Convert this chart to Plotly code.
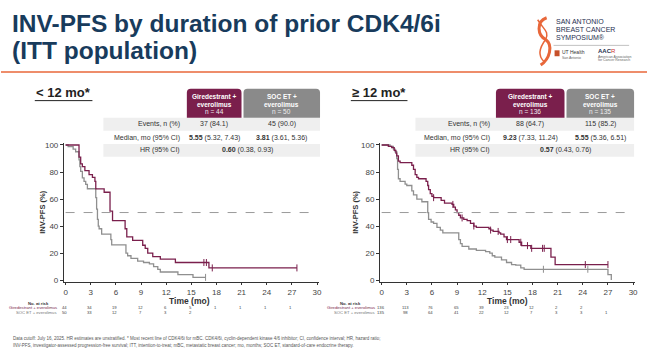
import plotly.graph_objects as go

# ---------------- data ----------------
x_ticks = [0, 3, 6, 9, 12, 15, 18, 21, 24, 27, 30]
y_ticks = [0, 20, 40, 60, 80, 100]

# < 12 mo : Giredestrant + everolimus
l_gir_t = [0, 1.6, 1.8, 2.0, 2.3, 2.8, 3.2, 3.5, 3.6, 4.6, 5.3, 5.6, 7.1, 7.3, 8.0, 9.2, 9.5, 9.8, 10.4, 11.3, 13.1, 17.1]
l_gir_s = [100, 91, 86, 84, 81, 78, 76, 73, 67.5, 65, 51, 44, 38, 32, 29.4, 25.8, 23.4, 20, 17.3, 15.5, 13, 9]
l_gir_end = 27.6
l_gir_cens = [16.5, 16.8, 17.5, 27.6]

# < 12 mo : SOC ET + everolimus
l_soc_t = [0, 0.3, 0.9, 1.2, 1.6, 1.7, 1.8, 2.0, 2.2, 2.4, 2.6, 3.6, 3.7, 3.8, 3.9, 4.0, 4.3, 5.4, 5.5, 7.2, 7.4, 7.8, 8.6, 9.3, 10.0, 10.5, 11.0, 11.3, 13.4, 15.2]
l_soc_s = [100, 98.8, 97, 95, 89, 84, 80.5, 75.7, 73, 70.8, 67.6, 61, 52.5, 45, 40, 38, 34, 30, 26, 20, 18, 16, 14, 13, 12, 10, 8, 6, 4, 2]
l_soc_end = 16.7
l_soc_cens = [16.7]

# >= 12 mo : Giredestrant + everolimus
r_gir_t = [0, 0.8, 1.2, 1.5, 1.7, 1.8, 2.0, 2.2, 3.6, 3.8, 4.0, 4.2, 4.4, 5.3, 5.5, 5.6, 5.8, 6.0, 6.2, 7.1, 7.5, 8.4, 8.6, 8.8, 9.0, 9.2, 9.4, 9.8, 10.2, 10.6, 11.0, 11.3, 12.8, 13.0, 13.3, 14.0, 14.2, 14.6, 14.9, 16.4, 16.7, 17.8, 20.2, 20.7]
r_gir_s = [100, 99, 98, 96, 94, 92, 88, 87, 85, 82, 78, 76, 75, 73, 70, 67, 64, 62, 61, 59, 57, 56, 54, 52, 50, 48, 46, 45, 44, 42, 40, 39, 38, 37, 36, 35, 34, 32, 30, 28, 25.5, 23.5, 17, 11.5]
r_gir_end = 27.0
r_gir_cens = [6.2, 8.5, 9.6, 11.0, 13.0, 13.9, 15.0, 15.4, 16.6, 17.4, 17.9, 19.2, 19.4, 24.3, 27.0]

# >= 12 mo : SOC ET + everolimus
r_soc_t = [0, 1.0, 1.4, 1.6, 1.8, 1.9, 2.0, 2.2, 2.8, 3.0, 3.6, 3.8, 4.2, 4.8, 5.5, 5.6, 5.9, 6.2, 6.6, 7.0, 7.3, 9.2, 9.4, 9.6, 10.4, 11.3, 12.4, 12.9, 13.2, 13.5, 14.3, 14.9, 15.5, 16.0, 16.6, 17.0, 27.0, 27.4]
r_soc_s = [100, 99, 97, 95, 90, 82, 75, 73, 71, 70, 66, 63, 60, 58, 50, 45, 43, 42, 39, 37, 35, 30, 27, 25, 23, 22, 21, 20, 18, 17, 15, 13, 11.5, 11, 9, 8, 4, 0]
r_soc_end = 27.4
r_soc_cens = [19.3, 24.6]

# numbers at risk
risk_times = [0, 3, 6, 9, 12, 15, 18, 21, 24, 27]
l_gir_risk = [44, 34, 19, 12, 6, 5, 1, 1, 1, 1]
l_soc_risk = [50, 33, 12, 7, 3, 2]
r_gir_risk = [136, 113, 76, 65, 39, 23, 12, 2, 2]
r_soc_risk = [135, 98, 64, 41, 22, 12, 7, 3, 3, 1]

# tables
left_arms = [("Giredestrant +", "everolimus", "n = 44"), ("SOC ET +", "everolimus", "n = 50")]
left_events = ["37 (84.1)", "45 (90.0)"]
left_median = [("5.55", " (5.32, 7.43)"), ("3.81", " (3.61, 5.36)")]
left_hr = ("0.60", " (0.38, 0.93)")
right_arms = [("Giredestrant +", "everolimus", "n = 136"), ("SOC ET +", "everolimus", "n = 135")]
right_events = ["88 (64.7)", "115 (85.2)"]
right_median = [("9.23", " (7.33, 11.24)"), ("5.55", " (5.36, 6.51)")]
right_hr = ("0.57", " (0.43, 0.76)")
row_labels = ["Events, n (%)", "Median, mo (95% CI)", "HR (95% CI)"]

# ---------------- style ----------------
W, H = 650, 360
MAROON = "#7A1F4C"
GREYC = "#8F8F8F"
GREYBOX = "#8A8A8A"
TITLE = "#183B5C"
ORANGE = "#E8673A"
FONT = "Liberation Sans, Arial, sans-serif"


def px(x):
    return x / W


def py(y):
    return 1 - y / H


fig = go.Figure()


def surv_at(ts, ss, t):
    v = ss[0]
    for ti, si in zip(ts, ss):
        if ti <= t:
            v = si
    return v


def add_curve(ts, ss, end, cens, color, xa, ya):
    fig.add_trace(go.Scatter(x=ts + [end], y=ss + [ss[-1]], mode="lines",
                             line=dict(color=color, width=1.3, shape="hv"),
                             xaxis=xa, yaxis=ya, showlegend=False, hoverinfo="skip"))
    fig.add_trace(go.Scatter(x=cens, y=[surv_at(ts, ss, c) for c in cens], mode="markers",
                             marker=dict(symbol="line-ns", size=5, line=dict(color=color, width=1)),
                             xaxis=xa, yaxis=ya, showlegend=False, hoverinfo="skip"))


add_curve(l_soc_t, l_soc_s, l_soc_end, l_soc_cens, GREYC, "x", "y")
add_curve(l_gir_t, l_gir_s, l_gir_end, l_gir_cens, MAROON, "x", "y")
add_curve(r_soc_t, r_soc_s, r_soc_end, r_soc_cens, GREYC, "x2", "y2")
add_curve(r_gir_t, r_gir_s, r_gir_end, r_gir_cens, MAROON, "x2", "y2")

# axes geometry (pixels)
xr = [-0.2, 30.2]
yr = [-1.5, 101.5]
ppm = (318 - 65) / 30.0
ppv = (282 - 145) / 100.0
ly0 = 282 + 1.5 * ppv
ly1 = 145 - 1.5 * ppv
ydom = [py(ly0), py(ly1)]
ldom = [px(65 - 0.2 * ppm), px(318 + 0.2 * ppm)]
rdom = [px(383 - 0.2 * ppm), px(636 + 0.2 * ppm)]

axcommon = dict(showgrid=False, zeroline=False, showline=True, linecolor="#333", linewidth=1,
                ticks="outside", tickcolor="#333",
                tickfont=dict(size=8, color="#444", family=FONT))
fig.update_layout(
    xaxis=dict(domain=ldom, range=xr, tickvals=x_ticks, anchor="y", ticklen=2, **axcommon),
    yaxis=dict(domain=ydom, range=yr, tickvals=y_ticks, anchor="x", ticklen=3, **axcommon),
    xaxis2=dict(domain=rdom, range=xr, tickvals=x_ticks, anchor="y2", ticklen=2, **axcommon),
    yaxis2=dict(domain=ydom, range=yr, tickvals=y_ticks, anchor="x2", ticklen=3, **axcommon),
)

shapes = []
ann = []

# dashed median lines
for xa, ya in [("x", "y"), ("x2", "y2")]:
    shapes.append(dict(type="line", xref=xa, yref=ya, x0=0, x1=30, y0=50, y1=50,
                       line=dict(color="#9A9A9A", width=1, dash="dash")))


def text(x, y, s, size=7, color="#333", xanchor="center", yanchor="middle", bold=False, textangle=0):
    ann.append(dict(x=px(x), y=py(y), xref="paper", yref="paper", text=(f"<b>{s}</b>" if bold else s),
                    showarrow=False, xanchor=xanchor, yanchor=yanchor, textangle=textangle,
                    borderpad=0, font=dict(size=size, color=color, family=FONT)))


# axis titles
for xl, xc in [(41, 190), (356, 510)]:
    text(xl, 213, "INV-PFS (%)", size=7.5, color="#333", bold=True, textangle=-90)
    text(xc, 303.5, "Time (mo)", size=8.5, color="#333", bold=True)

# title
text(10, 22, "INV-PFS by duration of prior CDK4/6i", size=24.5, color=TITLE, xanchor="left", bold=True)
text(10, 49, "(ITT population)", size=24.5, color=TITLE, xanchor="left", bold=True)
shapes.append(dict(type="line", xref="paper", yref="paper", x0=px(0), x1=px(650), y0=py(71), y1=py(71),
                   line=dict(color=ORANGE, width=1.5)))

# logo (approximation)
shapes.append(dict(type="path", xref="paper", yref="paper",
                   path=f"M {px(549)},{py(16)} C {px(538)},{py(20)} {px(540)},{py(34)} {px(548)},{py(38)} "
                        f"C {px(556)},{py(44)} {px(552)},{py(58)} {px(543)},{py(64)}",
                   line=dict(color=ORANGE, width=3)))
shapes.append(dict(type="path", xref="paper", yref="paper",
                   path=f"M {px(540)},{py(18)} C {px(546)},{py(28)} {px(552)},{py(30)} {px(548)},{py(38)} "
                        f"C {px(542)},{py(46)} {px(540)},{py(54)} {px(546)},{py(60)}",
                   line=dict(color=ORANGE, width=1.5)))
text(557, 20, "SAN ANTONIO", size=7, color="#1F2F4F", xanchor="left")
text(557, 28, "BREAST CANCER", size=7, color="#1F2F4F", xanchor="left")
text(557, 36, "SYMPOSIUM®", size=7, color="#1F2F4F", xanchor="left")
shapes.append(dict(type="line", xref="paper", yref="paper", x0=px(556), x1=px(632), y0=py(44), y1=py(44),
                   line=dict(color="#999", width=0.6)))
shapes.append(dict(type="rect", xref="paper", yref="paper", x0=px(557), x1=px(562), y0=py(55), y1=py(49),
                   fillcolor="#C6502A", line=dict(width=0)))
text(563, 51, "UT Health", size=5, color="#333", xanchor="left")
text(563, 56.5, "San Antonio", size=3.5, color="#666", xanchor="left")
text(600, 50, "<b>AAC</b><span style='color:#C33'>R</span>", size=6, color="#1F2F4F", xanchor="left")
text(600, 55.5, "American Association", size=3.5, color="#666", xanchor="left")
text(600, 59, "for Cancer Research", size=3.5, color="#666", xanchor="left")


def table(x_lbl_left, x_lbl_right, bx, arms, events, median, hr, header_label, hx):
    text(hx, 92, header_label, size=13, color="#222", xanchor="left", bold=True)
    for (y0, y1) in [(117.5, 130.5), (144, 157)]:
        shapes.append(dict(type="rect", xref="paper", yref="paper", x0=px(x_lbl_left), x1=px(bx[2]),
                           y0=py(y1), y1=py(y0), fillcolor="#EFEFEF", line=dict(width=0), layer="below"))
    r = 4
    cols = [(bx[0], bx[1] - 1, MAROON), (bx[1] + 1, bx[2], GREYBOX)]
    centers = []
    for (x0, x1, c), arm in zip(cols, arms):
        y0, y1 = 88, 117.5
        path = (f"M {px(x0)},{py(y1)} L {px(x0)},{py(y0 + r)} Q {px(x0)},{py(y0)} {px(x0 + r)},{py(y0)} "
                f"L {px(x1 - r)},{py(y0)} Q {px(x1)},{py(y0)} {px(x1)},{py(y0 + r)} L {px(x1)},{py(y1)} Z")
        shapes.append(dict(type="path", xref="paper", yref="paper", path=path, fillcolor=c, line=dict(width=0)))
        cx = (x0 + x1) / 2
        centers.append(cx)
        text(cx, 95.5, arm[0], size=6.5, color="white", bold=True)
        text(cx, 103.5, arm[1], size=6.5, color="white", bold=True)
        text(cx, 111.5, arm[2], size=6.5, color="#EEE")
    rows_y = [124, 137.5, 150.5]
    for lbl, yy in zip(row_labels, rows_y):
        text(x_lbl_right, yy, lbl, size=7, color="#333", xanchor="right")
    for cx, ev in zip(centers, events):
        text(cx, rows_y[0], ev, size=7, color="#333")
    for cx, (b, rest) in zip(centers, median):
        text(cx, rows_y[1], f"<b>{b}</b>{rest}", size=7, color="#333")
    text((centers[0] + centers[1]) / 2, rows_y[2], f"<b>{hr[0]}</b>{hr[1]}", size=7, color="#333")


table(103, 181, (187, 243, 321), left_arms, left_events, left_median, left_hr, "&lt; 12 mo*", 34)
table(417, 493, (498, 568, 637), right_arms, right_events, right_median, right_hr, "≥ 12 mo*", 352)
shapes.append(dict(type="line", xref="paper", yref="paper", x0=px(34), x1=px(92), y0=py(100), y1=py(100),
                   line=dict(color="#222", width=1)))
shapes.append(dict(type="line", xref="paper", yref="paper", x0=px(352), x1=px(409), y0=py(100), y1=py(100),
                   line=dict(color="#222", width=1)))


def risk(x0pix, lbl_right, gir, soc, hdr_x):
    text(hdr_x, 305.5, "<b>No. at risk</b>", size=4.2, color="#333")
    text(lbl_right, 310, "Giredestrant + everolimus", size=4.2, color=MAROON, xanchor="right")
    text(lbl_right, 315, "SOC ET + everolimus", size=4.2, color="#777", xanchor="right")
    for t, v in zip(risk_times, gir):
        text(x0pix + t * ppm, 310, str(v), size=4.2, color="#444")
    for t, v in zip(risk_times, soc):
        text(x0pix + t * ppm, 315, str(v), size=4.2, color="#444")


risk(64, 57, l_gir_risk, l_soc_risk, 38)
risk(382, 377, r_gir_risk, r_soc_risk, 352)

# footnote
text(11, 341, "Data cutoff: July 16, 2025. HR estimates are unstratified. * Most recent line of CDK4/6i for mBC. "
              "CDK4/6i, cyclin-dependent kinase 4/6 inhibitor; CI, confidence interval; HR, hazard ratio;",
     size=4.5, color="#555", xanchor="left")
text(11, 348.5, "INV-PFS, investigator-assessed progression-free survival; ITT, intention-to-treat; mBC, "
                "metastatic breast cancer; mo, months; SOC ET, standard-of-care endocrine therapy.",
     size=4.5, color="#555", xanchor="left")

fig.update_layout(width=W, height=H, margin=dict(l=0, r=0, t=0, b=0),
                  paper_bgcolor="white", plot_bgcolor="rgba(0,0,0,0)",
                  shapes=shapes, annotations=ann, showlegend=False,
                  font=dict(family=FONT))
fig.write_html("out.html", config={"displayModeBar": False},
               post_script="document.body.style.margin='0';document.body.style.overflow='hidden';")
